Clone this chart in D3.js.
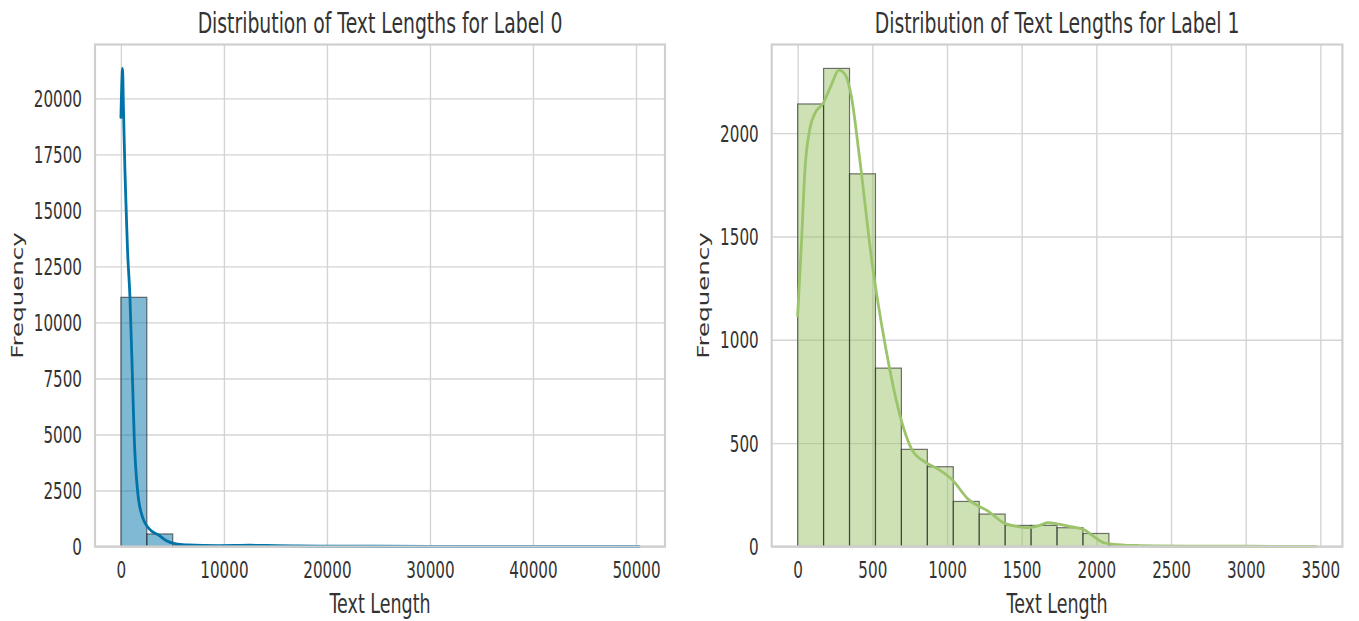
<!DOCTYPE html>
<html>
<head>
<meta charset="utf-8">
<script src="https://cdn.jsdelivr.net/npm/d3@7"></script>
<style>
  html, body { margin: 0; padding: 0; background: #ffffff; }
  svg { display: block; }
</style>
</head>
<body>
<svg id="chart" width="1359" height="621"></svg>
<script>
// ---------------- DATA ----------------
const titles = ["Distribution of Text Lengths for Label 0", "Distribution of Text Lengths for Label 1"];
const xLabel = "Text Length";
const yLabel = "Frequency";

// Label 0 histogram (20 bins)
const label0BinStart = 0;
const label0BinWidth = 2515;
const label0Counts = [11120, 560, 60, 25, 15, 8, 5, 3, 2, 2, 1, 1, 0, 1, 0, 0, 0, 0, 0, 1];
const label0KdeX = [0, 40, 90, 155, 250, 388, 520, 641, 874, 1126, 1291, 1612, 2097, 2913, 3718, 4369, 5340, 6500, 8000, 9500, 11000, 12500, 13500, 15000, 17000, 20000, 25000, 30000, 35000, 40000, 45000, 50300];
const label0KdeY = [19150, 19900, 20700, 21336, 19500, 16820, 14900, 13244, 11155, 7427, 4890, 2505, 1311, 716, 492, 268, 121, 70, 45, 40, 45, 55, 50, 35, 25, 18, 12, 10, 8, 6, 5, 4];
const label0XTicks = [0, 10000, 20000, 30000, 40000, 50000];
const label0YTicks = [0, 2500, 5000, 7500, 10000, 12500, 15000, 17500, 20000];

// Label 1 histogram (20 bins)
const label1BinStart = 0;
const label1BinWidth = 173.7;
const label1Counts = [2141, 2313, 1803, 863, 470, 386, 218, 157, 102, 102, 91, 63, 6, 3, 2, 1, 1, 0, 0, 1];
const label1KdeX = [0, 27, 48, 82, 115, 170, 225, 276, 320, 358, 413, 501, 590, 692, 764, 857, 944, 1032, 1143, 1275, 1386, 1460, 1540, 1610, 1674, 1750, 1828, 1916, 1980, 2049, 2120, 2182, 2270, 2400, 2600, 2900, 3200, 3470];
const label1KdeY = [1117, 1489, 1813, 2022, 2095, 2143, 2232, 2305, 2281, 2184, 1890, 1359, 960, 616, 470, 407, 373, 325, 228, 171, 112, 98, 91, 100, 115, 108, 96, 82, 50, 18, 10, 7, 5, 3, 2, 1.5, 1, 1];
const label1XTicks = [0, 500, 1000, 1500, 2000, 2500, 3000, 3500];
const label1YTicks = [0, 500, 1000, 1500, 2000];

const colors = ["#0173A8", "#9BC46B"];

// ---------------- LAYOUT ----------------
const SX = 0.66;           // horizontal squeeze of text (reference is horizontally compressed)
const textColor = "#333333";
const gridColor = "#d4d4d4";
const plotTop = 44.5, plotBottom = 546.5;

const panels = [
  { left: 95, right: 665, ylabOffset: 72, binStart: label0BinStart, binWidth: label0BinWidth, counts: label0Counts,
    kdeX: label0KdeX, kdeY: label0KdeY, xTicks: label0XTicks, yTicks: label0YTicks, color: colors[0], title: titles[0] },
  { left: 771.7, right: 1342.4, ylabOffset: 62.5, binStart: label1BinStart, binWidth: label1BinWidth, counts: label1Counts,
    kdeX: label1KdeX, kdeY: label1KdeY, xTicks: label1XTicks, yTicks: label1YTicks, color: colors[1], title: titles[1] }
];

const svg = d3.select("#chart");
svg.append("rect").attr("width", 1359).attr("height", 621).attr("fill", "#ffffff");

panels.forEach(p => {
  const n = p.counts.length;
  const dataMin = p.binStart;
  const dataMax = p.binStart + n * p.binWidth;
  const span = dataMax - dataMin;
  const x = d3.scaleLinear().domain([dataMin - 0.05 * span, dataMax + 0.05 * span]).range([p.left, p.right]);
  const yMax = Math.max(d3.max(p.counts), d3.max(p.kdeY)) * 1.05;
  const y = d3.scaleLinear().domain([0, yMax]).range([plotBottom, plotTop]);

  const g = svg.append("g");

  // grid via axes
  const gx = g.append("g").attr("transform", `translate(0,${plotBottom})`)
    .call(d3.axisBottom(x).tickValues(p.xTicks).tickSize(-(plotBottom - plotTop)).tickPadding(0).tickFormat(d3.format("d")));
  const gy = g.append("g").attr("transform", `translate(${p.left},0)`)
    .call(d3.axisLeft(y).tickValues(p.yTicks).tickSize(-(p.right - p.left)).tickPadding(0).tickFormat(d3.format("d")));
  [gx, gy].forEach(a => {
    a.select(".domain").remove();
    a.selectAll(".tick line").attr("stroke", gridColor).attr("stroke-width", 1.4);
  });
  gx.selectAll(".tick text")
    .attr("fill", textColor).attr("font-family", "DejaVu Sans").attr("font-size", 23)
    .attr("y", 0).attr("dy", 0)
    .attr("transform", `translate(0,31) scale(${SX},1)`);
  gy.selectAll(".tick text")
    .attr("fill", textColor).attr("font-family", "DejaVu Sans").attr("font-size", 23)
    .attr("x", 0).attr("dy", "0.35em")
    .attr("transform", `translate(-13,0) scale(${SX},1)`);

  // bars
  g.append("g").selectAll("rect").data(p.counts).join("rect")
    .attr("x", (d, i) => x(p.binStart + i * p.binWidth))
    .attr("width", (d, i) => x(p.binStart + (i + 1) * p.binWidth) - x(p.binStart + i * p.binWidth))
    .attr("y", d => y(d))
    .attr("height", d => plotBottom - y(d))
    .attr("fill", p.color).attr("fill-opacity", 0.5)
    .attr("stroke", "#1a1a1a").attr("stroke-opacity", 0.6).attr("stroke-width", 1.2);

  // KDE line
  const pts = p.kdeX.map((v, i) => [v, p.kdeY[i]]);
  g.append("path").datum(pts)
    .attr("d", d3.line().x(d => x(d[0])).y(d => y(d[1])).curve(d3.curveMonotoneX))
    .attr("fill", "none").attr("stroke", p.color).attr("stroke-width", 2.8)
    .attr("stroke-linejoin", "round").attr("stroke-linecap", "round");

  // axes frame
  g.append("rect").attr("x", p.left).attr("y", plotTop).attr("width", p.right - p.left).attr("height", plotBottom - plotTop)
    .attr("fill", "none").attr("stroke", "#cfcfcf").attr("stroke-width", 2.2);

  const cx = (p.left + p.right) / 2;
  // title
  g.append("text").text(p.title)
    .attr("transform", `translate(${cx},33) scale(${SX},1)`)
    .attr("text-anchor", "middle").attr("font-family", "DejaVu Sans").attr("font-size", 28.5).attr("fill", textColor);
  // x label
  g.append("text").text(xLabel)
    .attr("transform", `translate(${cx},613) scale(${SX},1)`)
    .attr("text-anchor", "middle").attr("font-family", "DejaVu Sans").attr("font-size", 26.5).attr("fill", textColor);
  // y label
  g.append("text").text(yLabel)
    .attr("transform", `translate(${p.left - p.ylabOffset},${(plotTop + plotBottom) / 2}) rotate(-90) scale(1,${SX})`)
    .attr("text-anchor", "middle").attr("font-family", "DejaVu Sans").attr("font-size", 24.5).attr("fill", textColor);
});
</script>
</body>
</html>
